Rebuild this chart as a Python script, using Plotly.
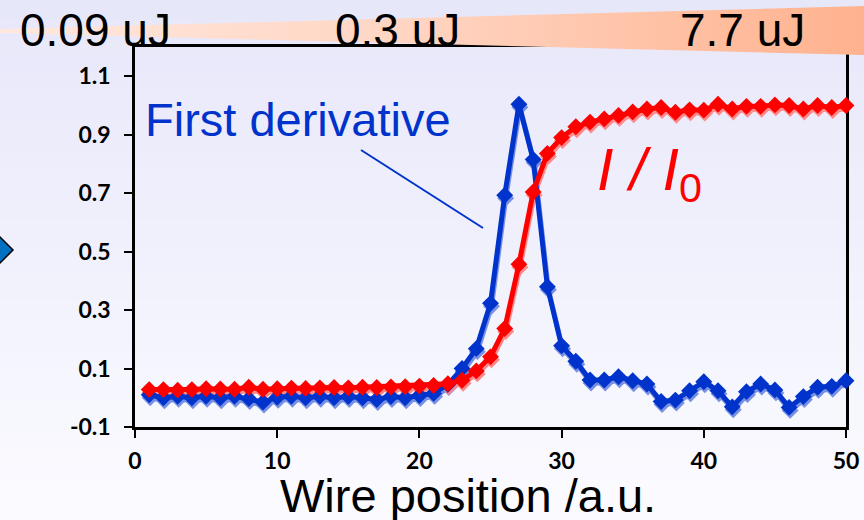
import plotly.graph_objects as go

# Figure size in pixels
W, H = 864, 520

# ---- data -------------------------------------------------------------
wire_pos = list(range(1, 51))

# normalised transmitted signal I / I0
transmission = [
    0.028, 0.028, 0.026, 0.028, 0.031, 0.030, 0.029, 0.036, 0.029, 0.031,
    0.033, 0.032, 0.034, 0.035, 0.034, 0.036, 0.035, 0.037, 0.038, 0.040,
    0.042, 0.048, 0.060, 0.092, 0.140, 0.237, 0.457, 0.704, 0.836, 0.890,
    0.927, 0.943, 0.954, 0.966, 0.978, 0.988, 0.993, 0.977, 0.985, 0.984,
    1.004, 0.988, 0.997, 0.997, 1.002, 1.000, 0.988, 1.000, 0.993, 1.000,
]

# first derivative of the transmitted signal (normalised)
derivative = [
    0.010, 0.000, 0.005, 0.000, 0.005, 0.000, 0.005, -0.003, -0.015, 0.002,
    0.005, 0.000, 0.005, 0.000, 0.004, 0.000, -0.006, 0.004, 0.000, 0.008,
    0.015, 0.045, 0.100, 0.168, 0.323, 0.693, 1.004, 0.815, 0.380, 0.178,
    0.125, 0.061, 0.061, 0.072, 0.058, 0.047, -0.013, -0.008, 0.024, 0.055,
    0.024, -0.031, 0.021, 0.047, 0.027, -0.033, 0.004, 0.036, 0.039, 0.058,
]

x_ticks = [0, 10, 20, 30, 40, 50]
y_ticks = [-0.1, 0.1, 0.3, 0.5, 0.7, 0.9, 1.1]
y_tick_text = ["-0.1", "0.1", "0.3", "0.5", "0.7", "0.9", "1.1"]

energy_labels = ["0.09 uJ", "0.3 uJ", "7.7 uJ"]
x_title = "Wire position /a.u."
deriv_label = "First derivative"
ratio_label = "<i>I / I</i><sub>0</sub>"

# ---- geometry / style -------------------------------------------------
PL, PR, PT, PB = 135, 846, 47, 427          # plot area edges (px)
X_RANGE = [0, 50]
Y_RANGE = [-0.1, 1.2]

BLUE, BLUE_SHADOW = "#0033CC", "#7890E2"
RED, RED_SHADOW = "#FF0000", "#FF8A8A"
SANS = "Liberation Sans"

# drop-shadow offset for the series (px)
SH_DX, SH_DY = 1, 3
dx = SH_DX * (X_RANGE[1] - X_RANGE[0]) / (PR - PL)
dy = SH_DY * (Y_RANGE[1] - Y_RANGE[0]) / (PB - PT)

x_dom = [PL / W, PR / W]
y_dom = [(H - PB) / H, (H - PT) / H]

fig = go.Figure()

# empty trace so that the framed, ticked axes own a subplot
fig.add_trace(go.Scatter(x=[None], y=[None], mode="markers", xaxis="x", yaxis="y",
                         hoverinfo="skip", showlegend=False))


def series(y, color, xa, ya, name):
    return go.Scatter(
        x=wire_pos, y=y, mode="lines+markers", name=name,
        line=dict(color=color, width=5),
        marker=dict(symbol="diamond", size=13, color=color, line=dict(width=0)),
        xaxis=xa, yaxis=ya, cliponaxis=False, hoverinfo="skip", showlegend=False,
    )


# soft shadows, drawn on slightly offset copies of the axes
fig.add_trace(series(derivative, BLUE_SHADOW, "x2", "y2", "deriv shadow"))
fig.add_trace(series(transmission, RED_SHADOW, "x2", "y2", "ratio shadow"))
# main series on a copy of the visible axes, layered above the shadows
fig.add_trace(series(derivative, BLUE, "x4", "y4", "First derivative"))
fig.add_trace(series(transmission, RED, "x4", "y4", "I / I0"))

# energy wedge across the top (pixel-coordinate overlay)
fig.add_trace(go.Scatter(
    x=[0, W, W, 0], y=[29, 6, 55, 33], mode="lines", fill="toself",
    line=dict(width=0),
    fillgradient=dict(type="horizontal",
                      colorscale=[[0, "#FFE8DE"], [0.45, "#FFD6C4"], [1, "#FFB28E"]]),
    xaxis="x3", yaxis="y3", hoverinfo="skip", showlegend=False,
))

# background: vertical lavender-to-white gradient as thin bands
shapes = []
N = 52
c0, c1 = (231, 231, 250), (251, 251, 255)
for i in range(N):
    t = i / (N - 1)
    c = tuple(round(c0[k] + (c1[k] - c0[k]) * t) for k in range(3))
    shapes.append(dict(
        type="rect", xref="paper", yref="paper", layer="below",
        x0=0, x1=1, y0=1 - (i + 1) / N - 0.002, y1=1 - i / N,
        fillcolor="rgb(%d,%d,%d)" % c, line=dict(width=0),
    ))

# pointer from the derivative label to its curve
shapes.append(dict(type="line", xref="x3", yref="y3", x0=361, y0=150, x1=483, y1=228,
                   line=dict(color=BLUE, width=2), layer="above"))
# arrow head peeking in at the left edge
shapes.append(dict(type="path", xref="x3", yref="y3",
                   path="M -12,225 L 13,250 L -12,275 Z",
                   fillcolor="#0070C0", line=dict(color="black", width=1.5), layer="above"))

annotations = []
for label, cx in zip(energy_labels, [95, 397, 742]):
    annotations.append(dict(text=label, x=cx, y=30, xref="x3", yref="y3",
                            xanchor="center", yanchor="middle", showarrow=False,
                            font=dict(family=SANS, size=46, color="black")))
annotations.append(dict(text=deriv_label, x=298, y=119, xref="x3", yref="y3",
                        xanchor="center", yanchor="middle", showarrow=False,
                        font=dict(family=SANS, size=47, color=BLUE)))
annotations.append(dict(text=ratio_label, x=595, y=174, xref="x3", yref="y3",
                        xanchor="left", yanchor="middle", showarrow=False,
                        font=dict(family=SANS, size=59, color=RED)))
annotations.append(dict(text=x_title, x=468, y=495, xref="x3", yref="y3",
                        xanchor="center", yanchor="middle", showarrow=False,
                        font=dict(family=SANS, size=47, color="black")))

tick_font = dict(family="Lato", size=23, color="black", weight="bold")
axis_common = dict(showline=True, linecolor="black", linewidth=2.5, mirror=True,
                   ticks="outside", ticklen=8, tickwidth=2, tickcolor="black",
                   showgrid=False, zeroline=False, tickfont=tick_font,
                   layer="below traces", fixedrange=True)
hidden = dict(visible=False, fixedrange=True, showgrid=False, zeroline=False)

fig.update_layout(
    width=W, height=H,
    margin=dict(l=0, r=0, t=0, b=0),
    paper_bgcolor="rgb(251,251,255)",
    plot_bgcolor="rgba(0,0,0,0)",
    showlegend=False,
    xaxis=dict(domain=x_dom, range=X_RANGE, tickvals=x_ticks, ticklabelstandoff=4,
               anchor="y", automargin=False, **axis_common),
    yaxis=dict(domain=y_dom, range=Y_RANGE, tickvals=y_ticks, ticktext=y_tick_text,
               ticklabelstandoff=9, anchor="x", automargin=False, **axis_common),
    xaxis2=dict(overlaying="x", domain=x_dom, range=[X_RANGE[0] - dx, X_RANGE[1] - dx],
                anchor="y2", **hidden),
    yaxis2=dict(overlaying="y", domain=y_dom, range=[Y_RANGE[0] + dy, Y_RANGE[1] + dy],
                anchor="x2", **hidden),
    xaxis4=dict(overlaying="x", domain=x_dom, range=X_RANGE, anchor="y4", **hidden),
    yaxis4=dict(overlaying="y", domain=y_dom, range=Y_RANGE, anchor="x4", **hidden),
    xaxis3=dict(domain=[0, 1], range=[0, W], anchor="y3", **hidden),
    yaxis3=dict(domain=[0, 1], range=[H, 0], anchor="x3", **hidden),
    shapes=shapes,
    annotations=annotations,
)

fig.write_html("out.html")
